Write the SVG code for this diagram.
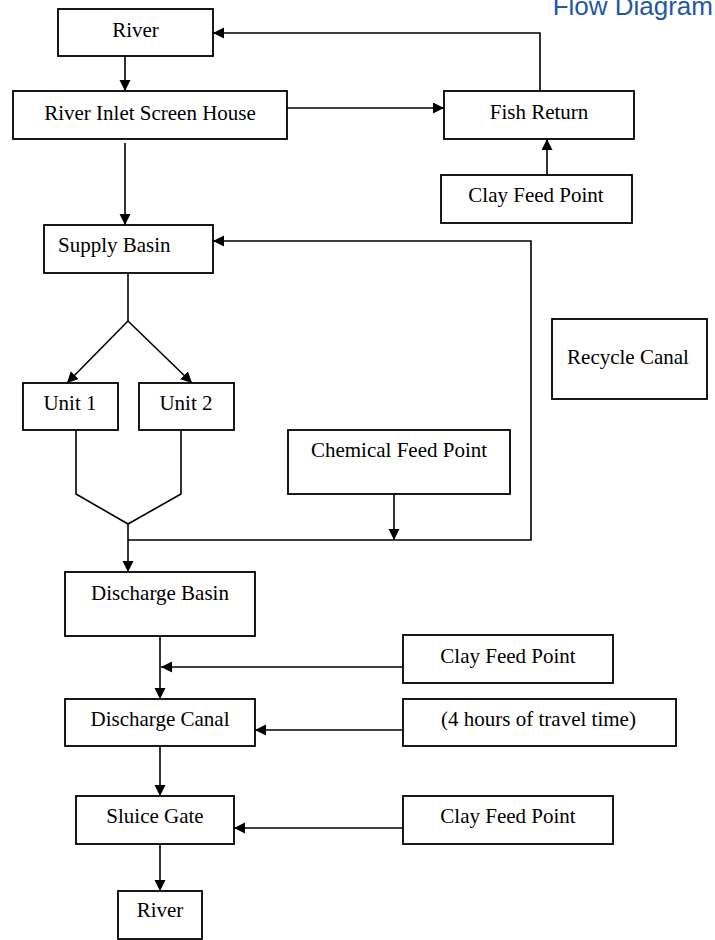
<svg xmlns="http://www.w3.org/2000/svg" width="715" height="940" viewBox="0 0 715 940">
<style>
  .box { fill: #ffffff; stroke: #000000; stroke-width: 1.8; }
  .lbl { font-family: "Liberation Serif", "Times New Roman", serif; font-size: 21px; fill: #000000; text-anchor: middle; }
  .lbl-start { text-anchor: start; }
  .conn path { fill: none; stroke: #000000; stroke-width: 1.6; }
  .title { font-family: "Liberation Sans", Arial, sans-serif; font-size: 26px; fill: #1f57a6; text-anchor: end; }
</style>
<defs>
  <marker id="arrow" markerUnits="userSpaceOnUse" markerWidth="12" markerHeight="12" refX="11" refY="5.5" orient="auto">
    <path d="M0,0 L11,5.5 L0,11 z" fill="#000000"/>
  </marker>
</defs>
<rect width="715" height="940" fill="#ffffff"/>
<text class="title" x="713" y="15">Flow Diagram</text>

<g id="connectors" class="conn">
  <path d="M125,56 V91" marker-end="url(#arrow)"/>
  <path d="M287,108 H444" marker-end="url(#arrow)"/>
  <path d="M540,91 V33 H213" marker-end="url(#arrow)"/>
  <path d="M547,175 V139" marker-end="url(#arrow)"/>
  <path d="M125,143 V225" marker-end="url(#arrow)"/>
  <path d="M128,273 V321"/>
  <path d="M128,321 L67,383" marker-end="url(#arrow)"/>
  <path d="M128,321 L192,383" marker-end="url(#arrow)"/>
  <path d="M76,430 V494 L128,524"/>
  <path d="M181,430 V494 L128,524"/>
  <path d="M128,524 V572" marker-end="url(#arrow)"/>
  <path d="M128,540 H531 V241 H213" marker-end="url(#arrow)"/>
  <path d="M394,494 V540" marker-end="url(#arrow)"/>
  <path d="M160,636 V699" marker-end="url(#arrow)"/>
  <path d="M403,667 H161" marker-end="url(#arrow)"/>
  <path d="M403,730 H255" marker-end="url(#arrow)"/>
  <path d="M160,746 V796" marker-end="url(#arrow)"/>
  <path d="M403,828 H234" marker-end="url(#arrow)"/>
  <path d="M160,844 V891" marker-end="url(#arrow)"/>
</g>

<g id="river-top"><rect class="box" x="58" y="9" width="155" height="47"/><text class="lbl" x="135.5" y="37">River</text></g>
<g id="river-inlet"><rect class="box" x="13" y="91" width="274" height="48"/><text class="lbl" x="150" y="119.5">River Inlet Screen House</text></g>
<g id="fish-return"><rect class="box" x="444" y="91" width="190" height="48"/><text class="lbl" x="539" y="119">Fish Return</text></g>
<g id="clay-feed-1"><rect class="box" x="441" y="175" width="191" height="48"/><text class="lbl" x="536" y="202">Clay Feed Point</text></g>
<g id="supply-basin"><rect class="box" x="44" y="225" width="169" height="48"/><text class="lbl lbl-start" x="58" y="252">Supply Basin</text></g>
<g id="recycle-canal"><rect class="box" x="552" y="319" width="155" height="80"/><text class="lbl" x="628" y="364">Recycle Canal</text></g>
<g id="unit-1"><rect class="box" x="23" y="383" width="95" height="47"/><text class="lbl" x="70" y="410">Unit 1</text></g>
<g id="unit-2"><rect class="box" x="139" y="383" width="95" height="47"/><text class="lbl" x="186" y="410">Unit 2</text></g>
<g id="chemical-feed"><rect class="box" x="288" y="430" width="222" height="64"/><text class="lbl" x="399" y="457">Chemical Feed Point</text></g>
<g id="discharge-basin"><rect class="box" x="65" y="572" width="190" height="64"/><text class="lbl" x="160" y="600">Discharge Basin</text></g>
<g id="clay-feed-2"><rect class="box" x="403" y="635" width="210" height="48"/><text class="lbl" x="508" y="663">Clay Feed Point</text></g>
<g id="discharge-canal"><rect class="box" x="65" y="699" width="190" height="47"/><text class="lbl" x="160" y="726">Discharge Canal</text></g>
<g id="travel-time"><rect class="box" x="403" y="699" width="273" height="47"/><text class="lbl" x="538.5" y="726">(4 hours of travel time)</text></g>
<g id="sluice-gate"><rect class="box" x="76" y="796" width="158" height="48"/><text class="lbl" x="155" y="823">Sluice Gate</text></g>
<g id="clay-feed-3"><rect class="box" x="403" y="796" width="210" height="48"/><text class="lbl" x="508" y="823">Clay Feed Point</text></g>
<g id="river-bottom"><rect class="box" x="118" y="891" width="84" height="48"/><text class="lbl" x="160" y="917">River</text></g>
</svg>
